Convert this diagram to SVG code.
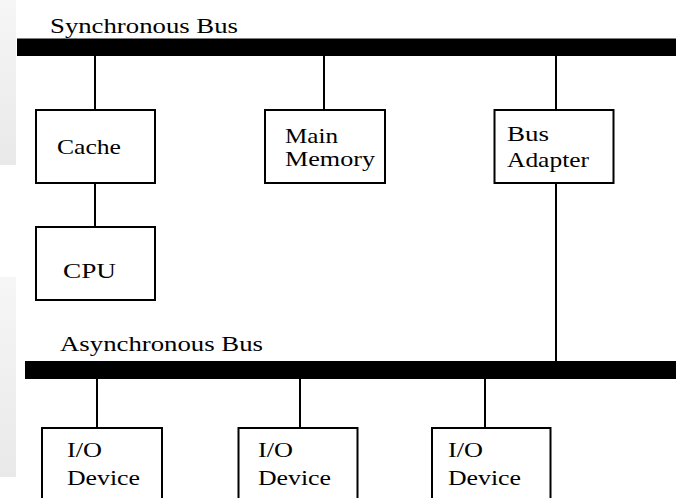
<svg xmlns="http://www.w3.org/2000/svg" width="676" height="498" viewBox="0 0 676 498">
  <defs>
    <linearGradient id="shade" x1="0" y1="0" x2="0" y2="1">
      <stop offset="0" stop-color="#f6f6f6"/>
      <stop offset="1" stop-color="#e9e9e9"/>
    </linearGradient>
    <style>
      .box { fill: #ffffff; stroke: #000000; stroke-width: 2; }
      .bus { fill: #000000; }
      .wire { stroke: #000000; stroke-width: 2; fill: none; }
      .lbl { font-family: "Liberation Serif", "DejaVu Serif", serif; font-size: 21px; fill: #000000; }
    </style>
  </defs>
  <rect x="0" y="0" width="676" height="498" fill="#ffffff"/>
  <rect x="0" y="0" width="16" height="165" fill="url(#shade)"/>
  <rect x="0" y="277" width="16" height="200" fill="url(#shade)"/>

  <g id="sync-bus">
    <rect class="bus" x="17" y="38.5" width="659" height="17.5"/>
    <text class="lbl" x="50" y="33" textLength="188" lengthAdjust="spacingAndGlyphs">Synchronous Bus</text>
  </g>
  <g id="async-bus">
    <rect class="bus" x="25" y="361" width="651" height="18"/>
    <text class="lbl" x="60" y="351" textLength="203" lengthAdjust="spacingAndGlyphs">Asynchronous Bus</text>
  </g>

  <g id="connectors">
    <line class="wire" x1="95" y1="56" x2="95" y2="110"/>
    <line class="wire" x1="95" y1="183" x2="95" y2="227"/>
    <line class="wire" x1="324" y1="56" x2="324" y2="110"/>
    <line class="wire" x1="556" y1="56" x2="556" y2="110"/>
    <line class="wire" x1="556" y1="183" x2="556" y2="361"/>
    <line class="wire" x1="97" y1="379" x2="97" y2="428"/>
    <line class="wire" x1="300" y1="379" x2="300" y2="428"/>
    <line class="wire" x1="485" y1="379" x2="485" y2="428"/>
  </g>

  <g id="cache">
    <rect class="box" x="36" y="110" width="119" height="73"/>
    <text class="lbl" x="57" y="154" textLength="64" lengthAdjust="spacingAndGlyphs">Cache</text>
  </g>
  <g id="cpu">
    <rect class="box" x="36" y="227" width="119" height="73"/>
    <text class="lbl" x="63" y="277.5" textLength="53" lengthAdjust="spacingAndGlyphs">CPU</text>
  </g>
  <g id="main-memory">
    <rect class="box" x="265" y="110" width="120" height="73"/>
    <text class="lbl" x="285" y="143" textLength="53" lengthAdjust="spacingAndGlyphs">Main</text>
    <text class="lbl" x="285" y="166" textLength="90" lengthAdjust="spacingAndGlyphs">Memory</text>
  </g>
  <g id="bus-adapter">
    <rect class="box" x="494.5" y="110" width="119" height="73"/>
    <text class="lbl" x="507" y="141" textLength="42" lengthAdjust="spacingAndGlyphs">Bus</text>
    <text class="lbl" x="507" y="167" textLength="82" lengthAdjust="spacingAndGlyphs">Adapter</text>
  </g>
  <g id="io-device-1">
    <rect class="box" x="42" y="428" width="120" height="90"/>
    <text class="lbl" x="67" y="457" textLength="35" lengthAdjust="spacingAndGlyphs">I/O</text>
    <text class="lbl" x="67" y="485" textLength="73" lengthAdjust="spacingAndGlyphs">Device</text>
  </g>
  <g id="io-device-2">
    <rect class="box" x="238.5" y="428" width="119" height="90"/>
    <text class="lbl" x="258" y="457" textLength="35" lengthAdjust="spacingAndGlyphs">I/O</text>
    <text class="lbl" x="258" y="485" textLength="73" lengthAdjust="spacingAndGlyphs">Device</text>
  </g>
  <g id="io-device-3">
    <rect class="box" x="432" y="428" width="118.5" height="90"/>
    <text class="lbl" x="448" y="457" textLength="35" lengthAdjust="spacingAndGlyphs">I/O</text>
    <text class="lbl" x="448" y="485" textLength="73" lengthAdjust="spacingAndGlyphs">Device</text>
  </g>
</svg>
